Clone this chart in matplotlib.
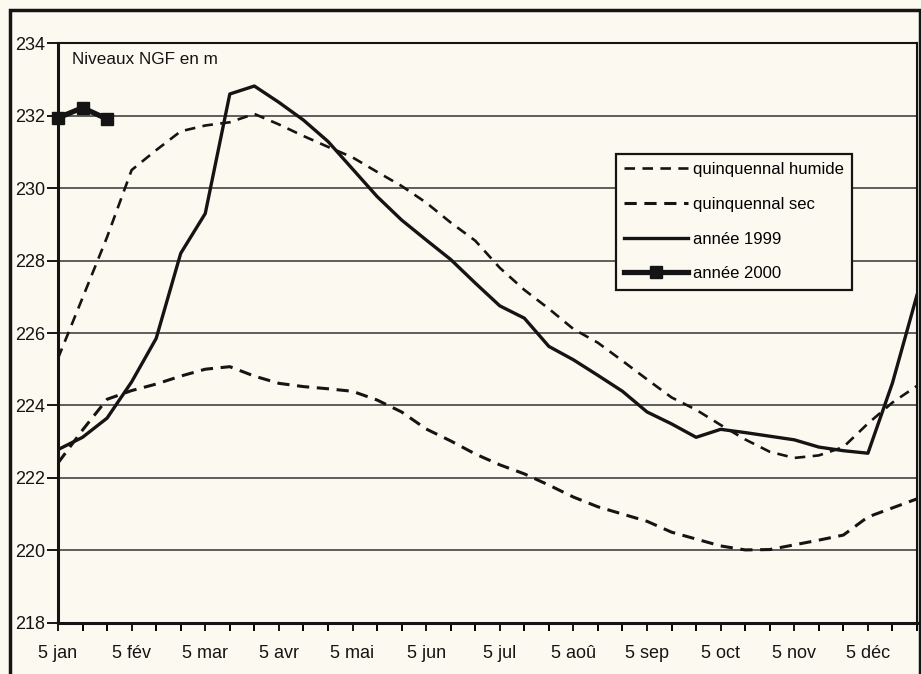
import matplotlib.pyplot as plt
from matplotlib.patches import Rectangle

plt.rcParams['font.family'] = ['Liberation Sans', 'DejaVu Sans']

### dates: every 10 days from 5 jan
tick_labels = ['5 jan', '5 fév', '5 mar', '5 avr', '5 mai', '5 jun',
               '5 jul', '5 aoû', '5 sep', '5 oct', '5 nov', '5 déc']

### niveaux NGF (m)
humide = [225.3, 226.97, 228.65, 230.5, 231.05, 231.57, 231.73, 231.82, 232.05,
          231.76, 231.44, 231.14, 230.85, 230.45, 230.06, 229.6, 229.05, 228.55,
          227.8, 227.19, 226.67, 226.11, 225.73, 225.23, 224.72, 224.22, 223.88,
          223.46, 223.06, 222.72, 222.55, 222.62, 222.85, 223.5, 224.08, 224.54]
sec = [222.41, 223.32, 224.17, 224.41, 224.59, 224.81, 225.0, 225.07, 224.81,
       224.61, 224.52, 224.46, 224.39, 224.15, 223.82, 223.35, 223.02, 222.66,
       222.36, 222.11, 221.8, 221.47, 221.2, 221.0, 220.8, 220.5, 220.31,
       220.12, 220.01, 220.02, 220.15, 220.28, 220.42, 220.92, 221.17, 221.42]
annee_1999 = [222.78, 223.12, 223.65, 224.65, 225.85, 228.2, 229.3, 232.6, 232.82,
              232.37, 231.88, 231.29, 230.53, 229.77, 229.12, 228.57, 228.03, 227.38,
              226.75, 226.41, 225.63, 225.26, 224.83, 224.39, 223.82, 223.49, 223.12,
              223.34, 223.25, 223.15, 223.05, 222.85, 222.75, 222.68, 224.62, 227.05]
annee_2000 = [231.94, 232.22, 231.91]

bg = '#fcfaf0'
ink = '#141414'

fig = plt.figure(figsize=(9.21, 6.74), dpi=100, facecolor=bg)
ax = fig.add_axes([58 / 921, 1 - 622.7 / 674, 859 / 921, 579.4 / 674])
ax.set_facecolor(bg)

x = list(range(len(humide)))
ax.plot(x, humide, color=ink, lw=1.9, dashes=(4, 2.8), label='quinquennal humide')
ax.plot(x, sec, color=ink, lw=2.2, dashes=(4, 2.5), label='quinquennal sec')
ax.plot(x, annee_1999, color=ink, lw=2.4, label='année 1999')
ax.plot(range(len(annee_2000)), annee_2000, color=ink, lw=3.8, marker='s',
        markersize=8.5, label='année 2000', clip_on=False)

ax.set_xlim(0, 35)
ax.set_ylim(218, 234)
ax.set_yticks(range(218, 235, 2))
ax.set_xticks(range(36), minor=True)
ax.set_xticks(range(0, 36, 3))
ax.set_xticklabels(tick_labels)
ax.tick_params(axis='both', labelsize=13, colors=ink, width=1.4)
ax.tick_params(axis='y', length=8, pad=1)
ax.tick_params(axis='x', which='both', length=6, width=1.4, pad=10)
ax.grid(axis='y', color='#333333', lw=1.1)

for side in ['top', 'right']:
    ax.spines[side].set_linewidth(1.5)
for side in ['left', 'bottom']:
    ax.spines[side].set_linewidth(2.2)
for s in ax.spines.values():
    s.set_color(ink)

ax.text(0.016, 0.985, 'Niveaux NGF en m', transform=ax.transAxes, fontsize=12.3,
        va='top', ha='left', color=ink)

leg = ax.legend(loc='upper left', bbox_to_anchor=(0.6496, 0.809), borderaxespad=0,
                fontsize=12, handlelength=3.8, labelspacing=1.18, handletextpad=0.3,
                borderpad=0.5, fancybox=False, framealpha=1, facecolor=bg,
                edgecolor=ink)
leg.get_frame().set_linewidth(1.6)

fig.patches.append(Rectangle((10 / 921, -0.02), 910 / 921, 1.02 - 10 / 674,
                             transform=fig.transFigure, fill=False, lw=2.5,
                             edgecolor=ink))

fig.savefig('out.png', dpi=100, facecolor=bg)
